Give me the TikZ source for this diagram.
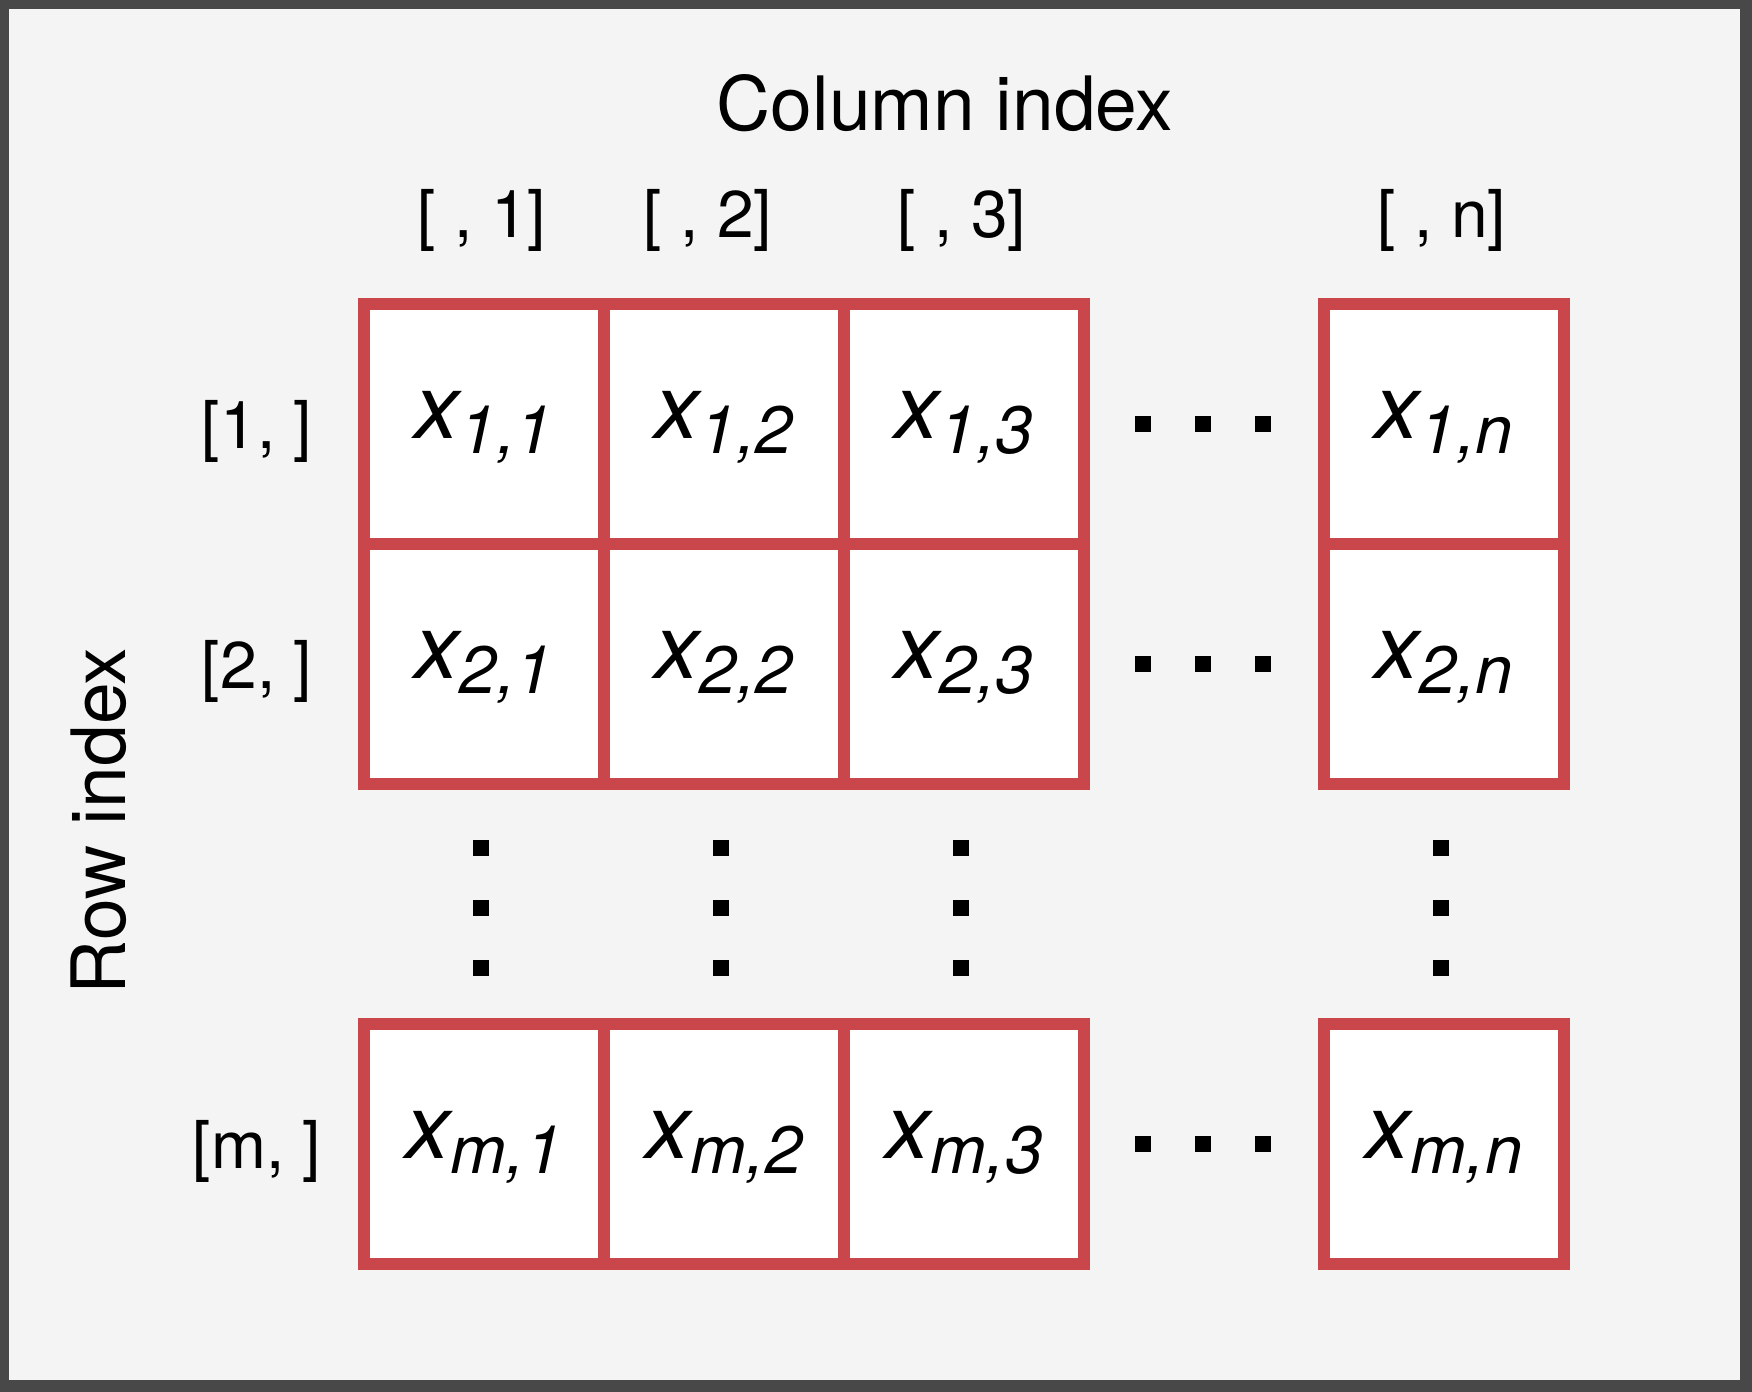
\documentclass[tikz,border=0pt]{standalone}
\usepackage{fontspec}
\setmainfont{TeX Gyre Heros}
\definecolor{cellred}{RGB}{201,71,75}
\definecolor{framegray}{RGB}{72,72,72}
\definecolor{bggray}{RGB}{244,244,244}
\newcommand\cellsub[1]{\raisebox{-7.5pt}{\fontsize{33.5pt}{40pt}\selectfont #1}}
\newcommand\cellx[1]{x\cellsub{#1}}
\begin{document}
\begin{tikzpicture}[x=0.5pt,y=-0.5pt,
  cell/.style={draw=cellred, fill=white, line width=6pt, minimum width=120pt,
    minimum height=120pt, inner sep=0pt, text height=20pt, text depth=6pt,
    font=\fontsize{45pt}{54pt}\selectfont\itshape},
  idxlabel/.style={anchor=base, inner sep=0pt, font=\fontsize{33pt}{40pt}\selectfont},
  axtitle/.style={anchor=base, inner sep=0pt, font=\fontsize{37.5pt}{45pt}\selectfont},
  dotsq/.style={fill=black}]
\useasboundingbox (0,0) rectangle (1752,1392);
\fill[framegray] (0,0) rectangle (1752,1392);
\fill[bggray] (9,9) rectangle (1740,1380);

% titles
\node[axtitle] (coltitle) at (945,130) {Column index};
\node[axtitle, rotate=90] (rowtitle) at (125,821) {Row index};

% column labels
\node[idxlabel] (c1) at (482,237) {[ , 1]};
\node[idxlabel] (c2) at (708,237) {[ , 2]};
\node[idxlabel] (c3) at (962,237) {[ , 3]};
\node[idxlabel] (cn) at (1442,237) {[ , n]};

% row labels
\node[idxlabel] (r1) at (257,448) {[1, ]};
\node[idxlabel] (r2) at (257,688) {[2, ]};
\node[idxlabel] (rm) at (257,1168) {[m, ]};

% cells
\node[cell] (x11) at (484,424) {\cellx{1,1}};
\node[cell] (x12) at (724,424) {\cellx{1,2}};
\node[cell] (x13) at (964,424) {\cellx{1,3}};
\node[cell] (x1n) at (1444,424) {\cellx{1,n}};
\node[cell] (x21) at (484,664) {\cellx{2,1}};
\node[cell] (x22) at (724,664) {\cellx{2,2}};
\node[cell] (x23) at (964,664) {\cellx{2,3}};
\node[cell] (x2n) at (1444,664) {\cellx{2,n}};
\node[cell] (xm1) at (484,1144) {\cellx{m,1}};
\node[cell] (xm2) at (724,1144) {\cellx{m,2}};
\node[cell] (xm3) at (964,1144) {\cellx{m,3}};
\node[cell] (xmn) at (1444,1144) {\cellx{m,n}};

% horizontal ellipsis dots
\foreach \yy in {424,664,1144} {
  \foreach \xx in {1143,1203,1263} {
    \fill[dotsq] (\xx-8,\yy-8) rectangle (\xx+8,\yy+8);
  }
}
% vertical ellipsis dots
\foreach \xx in {481,721,961,1441} {
  \foreach \yy in {848,908,968} {
    \fill[dotsq] (\xx-8,\yy-8) rectangle (\xx+8,\yy+8);
  }
}
\end{tikzpicture}
\end{document}
